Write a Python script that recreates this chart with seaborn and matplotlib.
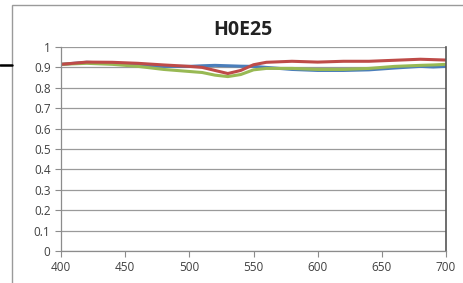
import numpy as np
import pandas as pd
import matplotlib.pyplot as plt
import seaborn as sns
from matplotlib.lines import Line2D
from matplotlib.patches import Rectangle

wavelength = [400, 420, 440, 460, 480, 500, 510, 520, 530, 540, 550, 560, 580, 600, 620, 640, 660, 680, 690, 700]
blue_vals = [0.915, 0.925, 0.92, 0.91, 0.905, 0.905, 0.908, 0.91, 0.908, 0.906, 0.905, 0.9, 0.89, 0.885, 0.885, 0.888, 0.897, 0.905, 0.902, 0.905]
red_vals = [0.915, 0.926, 0.925, 0.92, 0.912, 0.905, 0.9, 0.885, 0.87, 0.885, 0.913, 0.925, 0.93, 0.926, 0.93, 0.93, 0.935, 0.94, 0.938, 0.936]
green_vals = [0.915, 0.92, 0.915, 0.905, 0.89, 0.88, 0.875, 0.862, 0.855, 0.865, 0.888, 0.895, 0.895, 0.89, 0.89, 0.895, 0.905, 0.91, 0.912, 0.915]

df = pd.DataFrame({"wl": wavelength * 3,
                   "val": blue_vals + red_vals + green_vals,
                   "series": ["b"] * 20 + ["r"] * 20 + ["g"] * 20})

sns.set_style("white")
plt.rcParams["font.family"] = ["Open Sans", "DejaVu Sans"]

fig = plt.figure(figsize=(4.63, 2.83), dpi=100)
ax = fig.add_axes([61 / 463, 1 - 251 / 283, 385 / 463, 204 / 283])

sns.lineplot(data=df, x="wl", y="val", hue="series",
             palette={"b": "#4a7ebb", "r": "#be4b48", "g": "#98b954"},
             hue_order=["b", "g", "r"], linewidth=2.2, legend=False, ax=ax)

ax.set_xlim(400, 700)
ax.set_ylim(0, 1)
ax.set_xticks(np.arange(400, 701, 50))
ax.set_yticks(np.round(np.arange(0, 1.01, 0.1), 1))
ax.set_yticklabels(["0", "0.1", "0.2", "0.3", "0.4", "0.5", "0.6", "0.7", "0.8", "0.9", "1"])
ax.grid(axis="y", color="#9a9a9a", linewidth=0.9)
ax.set_axisbelow(True)
ax.tick_params(axis="both", labelsize=8.5, colors="#404040", length=4, width=0.8,
               direction="out", left=True, bottom=True, color="#8c8c8c")
ax.set_xlabel("")
ax.set_ylabel("")
for s in ["left", "bottom"]:
    ax.spines[s].set_color("#8c8c8c")
    ax.spines[s].set_linewidth(0.9)
ax.spines["top"].set_visible(False)
ax.spines["right"].set_color("#555555")
ax.spines["right"].set_linewidth(1.2)

fig.text(243 / 463, 1 - 30 / 283, "H0E25", ha="center", va="center",
         fontsize=14, fontweight="bold", color="#222222")

# outer chart frame
fig.patches.append(Rectangle((12 / 463, -0.02), 1.1, 1 - 5 / 283 + 0.02,
                             transform=fig.transFigure, fill=False,
                             edgecolor="#9a9a9a", linewidth=1.0))
fig.lines.append(Line2D([0, 12 / 463], [1 - 65 / 283] * 2, transform=fig.transFigure,
                        color="black", linewidth=1.8))

fig.savefig("out.png", dpi=100)
